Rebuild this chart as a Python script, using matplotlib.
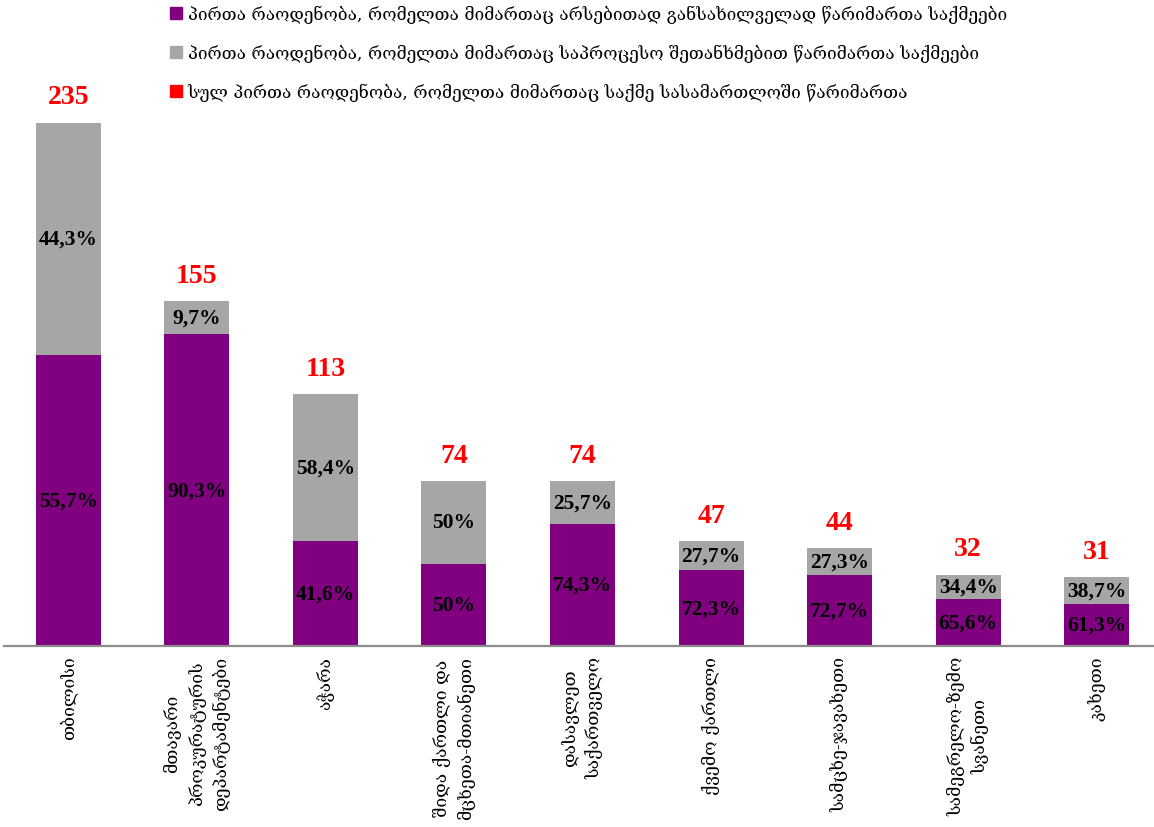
import matplotlib
matplotlib.use('Agg')
import matplotlib.pyplot as plt
from matplotlib.patches import Patch
import numpy as np

plt.rcParams['font.family'] = ['DejaVu Serif', 'DejaVu Sans']
NUM_FONT = ['Liberation Serif', 'DejaVu Serif']

# ── data ──
regions = [
    'თბილისი',
    'მთავარი\nპროკურატურის\nდეპარტამენტები',
    'აჭარა',
    'შიდა ქართლი და\nმცხეთა-მთიანეთი',
    'დასავლეთ\nსაქართველო',
    'ქვემო ქართლი',
    'სამცხე-ჯავახეთი',
    'სამეგრელო-ზემო\nსვანეთი',
    'კახეთი',
]
totals = [235, 155, 113, 74, 74, 47, 44, 32, 31]
share_trial = [55.7, 90.3, 41.6, 50, 74.3, 72.3, 72.7, 65.6, 61.3]
share_plea = [44.3, 9.7, 58.4, 50, 25.7, 27.7, 27.3, 34.4, 38.7]

legend_labels = [
    'პირთა რაოდენობა, რომელთა მიმართაც არსებითად განსახილველად წარიმართა საქმეები',
    'პირთა რაოდენობა, რომელთა მიმართაც საპროცესო შეთანხმებით წარიმართა საქმეები',
    'სულ პირთა რაოდენობა, რომელთა მიმართაც საქმე სასამართლოში წარიმართა',
]

PURPLE = '#800080'
GRAY = '#A6A6A6'
RED = '#FF0000'


def fmt_pct(v):
    if float(v).is_integer():
        return f'{int(v)}%'
    return f'{v:.1f}%'.replace('.', ',')


totals_a = np.array(totals, dtype=float)
trial = totals_a * np.array(share_trial) / 100
plea = totals_a * np.array(share_plea) / 100
x = np.arange(len(regions))

fig = plt.figure(figsize=(11.54, 8.28), dpi=100)
ax = fig.add_axes([4 / 1154, 181 / 828, 1157 / 1154, 556.5 / 828])

ax.bar(x, trial, width=0.505, color=PURPLE)
ax.bar(x, plea, width=0.505, bottom=trial, color=GRAY)

for i in range(len(x)):
    ax.text(x[i], trial[i] / 2, fmt_pct(share_trial[i]), ha='center', va='center',
            fontsize=15.5, fontweight='bold', color='black', family=NUM_FONT)
    ax.text(x[i], trial[i] + plea[i] / 2, fmt_pct(share_plea[i]), ha='center',
            va='center', fontsize=15.5, fontweight='bold', color='black',
            family=NUM_FONT)
    ax.annotate(str(totals[i]), (x[i], totals_a[i]), xytext=(0, 14),
                textcoords='offset points', ha='center', va='baseline',
                fontsize=20, fontweight='bold', color=RED, family=NUM_FONT)

ax.set_xlim(-0.5, 8.5)
ax.set_ylim(0, 250)
for s in ['top', 'right', 'left']:
    ax.spines[s].set_visible(False)
ax.spines['bottom'].set_color('#8C8C8C')
ax.spines['bottom'].set_linewidth(1.6)
ax.set_yticks([])
ax.set_xticks(x)
ax.set_xticklabels(regions, rotation=90, ha='center', va='top',
                   multialignment='center', fontsize=12.6)
for t in ax.get_xticklabels():
    t.set_linespacing(1.45)
ax.tick_params(axis='x', length=0, pad=7)

handles = [Patch(color=PURPLE), Patch(color=GRAY), Patch(color=RED)]
fig.legend(handles, legend_labels, loc='upper left',
           bbox_to_anchor=(160 / 1154, 1.005), frameon=False, fontsize=12.45,
           handlelength=0.7, handleheight=0.7, handletextpad=0.3,
           labelspacing=1.2, borderaxespad=0.2)

fig.savefig('out.png', dpi=100)
